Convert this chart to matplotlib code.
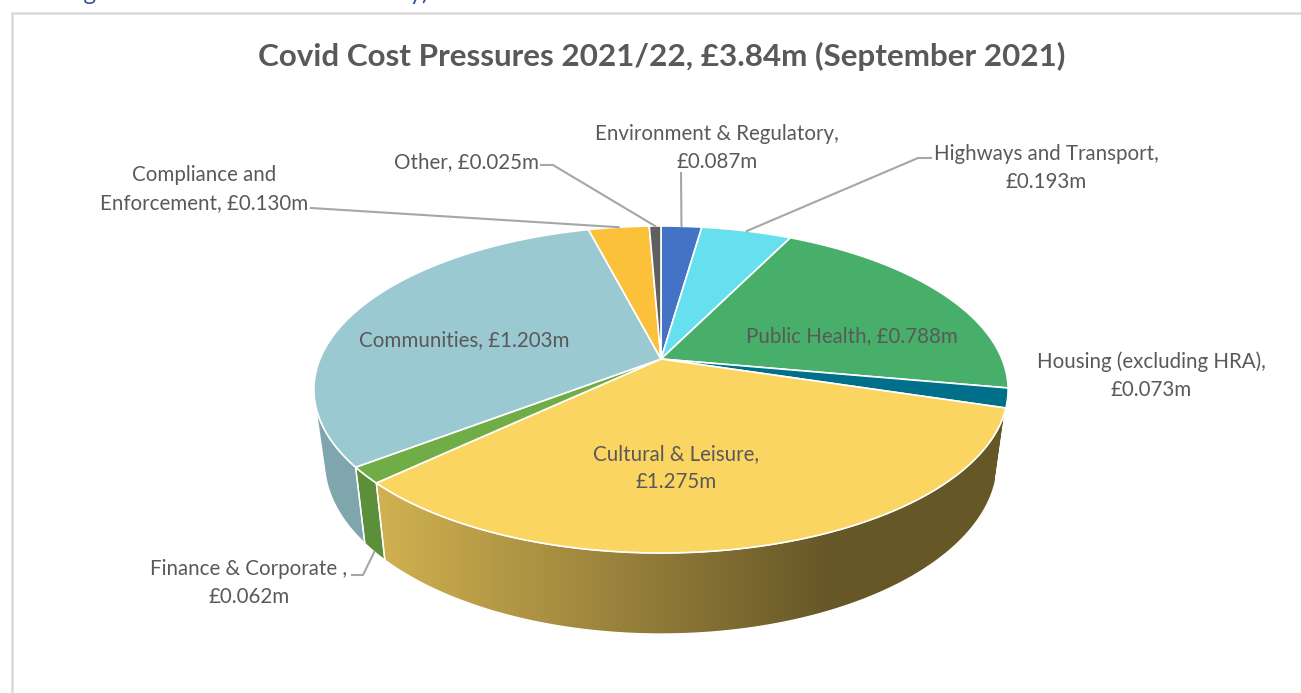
import numpy as np
import matplotlib
matplotlib.use("Agg")
import matplotlib.pyplot as plt
from matplotlib.patches import Polygon

plt.rcParams["font.family"] = ["Lato", "DejaVu Sans"]

# Covid cost pressures by service, GBP millions, clockwise from 12 o'clock
names = ["Environment & Regulatory,\n", "Highways and Transport,\n", "Public Health, ",
         "Housing (excluding HRA),\n", "Cultural & Leisure,\n", "Finance & Corporate ,\n",
         "Communities, ", "Compliance and\nEnforcement, ", "Other, "]
values = [0.087, 0.193, 0.788, 0.073, 1.275, 0.062, 1.203, 0.130, 0.025]
colors = ["#4472C4", "#66DFEF", "#47AF69", "#00708A", "#FBD561", "#70AD47",
          "#9BC9D1", "#FBC13A", "#5F5F5F"]
title = "Covid Cost Pressures 2021/22, £3.84m (September 2021)"
header = "Figure 5: Covid Costs Sector Only)"

# label centres in pixels
label_pos = [(717, 148), (1046, 168), (852, 336), (1151, 376), (676, 468),
             (249, 583), (464, 340), (204, 189), (467, 162)]

TEXT = "#595959"
LEADER = "#A6A6A6"

# projection of the pie disc
CX, CY = 661, 359
A, B, K = 341, 157.8, 0.1865
WALL_DY, WALL_SX, WALL_SY = 70, 0.97, 1.057
# angles (deg) where the rim stops being visible from the front
SIL_R, SIL_L = 104.7, 255.3


def top_xy(deg):
    t = np.radians(deg)
    X, Y = np.sin(t), np.cos(t)
    d = 1 + K * Y
    return CX + A * X / d, CY - B * Y / d


def bottom_xy(deg):
    x, y = top_xy(deg)
    return CX + WALL_SX * (x - CX), CY + WALL_DY + WALL_SY * (y - CY)


def shade(x):
    return np.interp(x, [380, 830], [0.83, 0.41])


fig = plt.figure(figsize=(13.01, 6.93), dpi=100)
ax = fig.add_axes([0, 0, 1, 1])

# card outline
ax.plot([12, 12, 1301], [693, 13, 13], color="#D9D9D9", lw=1.8, solid_joinstyle="miter")

ax.text(64, 0.5, header, color="#2F5597", fontsize=17.4, ha="left", va="baseline", clip_on=False)
ax.text(662, 56, title, color=TEXT, fontsize=22.6, fontweight="bold", ha="center", va="center")

edges = np.cumsum([0] + values) / sum(values) * 360

# side walls, shaded from left to right
for i, col in enumerate(colors):
    a0, a1 = max(edges[i], SIL_R), min(edges[i + 1], SIL_L)
    if a1 <= a0:
        continue
    ang = np.linspace(a0, a1, 120)
    tx, ty = top_xy(ang)
    bx, by = bottom_xy(ang)
    pts = np.column_stack([np.r_[tx, bx[::-1]], np.r_[ty, by[::-1]]])
    x0, x1 = pts[:, 0].min(), pts[:, 0].max()
    xs = np.linspace(x0, x1, 256)
    rgb = np.array(matplotlib.colors.to_rgb(col))
    grad = (shade(xs)[:, None] * rgb)[None, :, :]
    im = ax.imshow(grad, extent=(x0, x1, pts[:, 1].max(), pts[:, 1].min()),
                   aspect="auto", interpolation="bilinear", zorder=2)
    poly = Polygon(pts, closed=True, fc="none", ec="white", lw=1.0, zorder=3)
    ax.add_patch(poly)
    im.set_clip_path(poly)

# top face
for i, col in enumerate(colors):
    ang = np.linspace(edges[i], edges[i + 1], 200)
    x, y = top_xy(ang)
    pts = np.column_stack([np.r_[CX, x], np.r_[CY, y]])
    ax.add_patch(Polygon(pts, closed=True, fc=col, ec="white", lw=1.2, zorder=4))

# data labels
for name, v, (lx, ly) in zip(names, values, label_pos):
    ax.text(lx, ly, f"{name}£{v:.3f}m", color=TEXT, fontsize=14.8, ha="center",
            va="center", linespacing=1.5, multialignment="center", zorder=6)


def leader(i, *points, wall=False):
    mid = (edges[i] + edges[i + 1]) / 2
    end = bottom_xy(mid) if wall else top_xy(mid)
    xs = [p[0] for p in points] + [end[0]]
    ys = [p[1] for p in points] + [end[1]]
    ax.plot(xs, ys, color=LEADER, lw=1.5, zorder=5, solid_joinstyle="miter")


leader(0, (681, 173))
leader(1, (931, 158), (918, 158))
leader(7, (311, 208))
leader(8, (541, 165), (553, 165))
leader(5, (352, 575), (363, 575), wall=True)

ax.set_xlim(0, 1301)
ax.set_ylim(693, 0)
ax.axis("off")
fig.savefig("out.png", dpi=100, facecolor="white")
